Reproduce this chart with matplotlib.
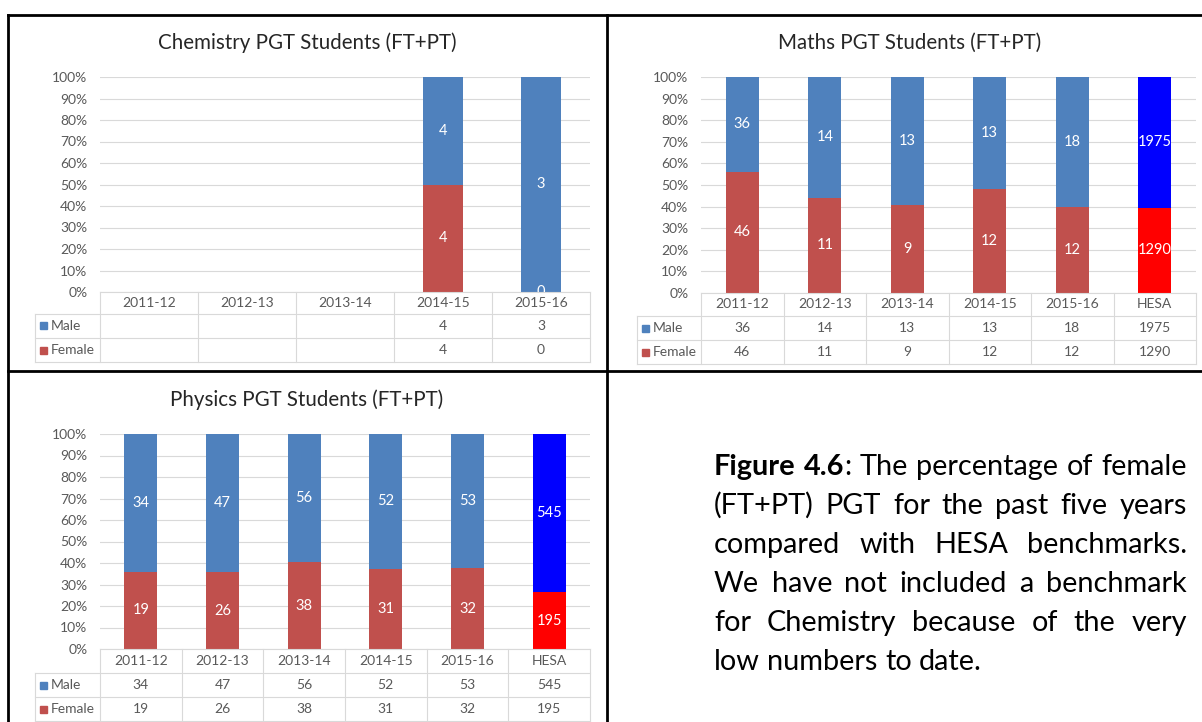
import matplotlib.pyplot as plt
from matplotlib.lines import Line2D
from matplotlib.patches import Rectangle

plt.rcParams['font.family'] = ['Lato', 'DejaVu Sans']

W, H = 1202, 722

years = ['2011-12', '2012-13', '2013-14', '2014-15', '2015-16']

chem_cats = years
chem_male = [None, None, None, 4, 3]
chem_female = [None, None, None, 4, 0]

maths_cats = years + ['HESA']
maths_male = [36, 14, 13, 13, 18, 1975]
maths_female = [46, 11, 9, 12, 12, 1290]

phys_cats = years + ['HESA']
phys_male = [34, 47, 56, 52, 53, 545]
phys_female = [19, 26, 38, 31, 32, 195]

MALE_C, FEMALE_C = '#4F81BD', '#C0504D'
HESA_MALE_C, HESA_FEMALE_C = '#0000FF', '#FF0000'
GRID_C = '#D9D9D9'
TXT_C = '#595959'

fig = plt.figure(figsize=(W / 100, H / 100), dpi=100)


def fx(x):
    return x / W


def fy(y):
    return 1 - y / H


def hline(y, x0, x1, color=GRID_C, lw=0.8):
    fig.add_artist(Line2D([fx(x0), fx(x1)], [fy(y), fy(y)], color=color, lw=lw,
                          transform=fig.transFigure))


def vline(x, y0, y1, color=GRID_C, lw=0.8):
    fig.add_artist(Line2D([fx(x), fx(x)], [fy(y0), fy(y1)], color=color, lw=lw,
                          transform=fig.transFigure))


def chart(title, title_xy, cats, male, female, box, rows, leg_left):
    x0, x1, ytop, ybot = box
    hdr_bot, male_bot, fem_bot = rows
    n = len(cats)
    ax = fig.add_axes([fx(x0), fy(ybot), (x1 - x0) / W, (ybot - ytop) / H])

    for i, (m, f) in enumerate(zip(male, female)):
        if m is None:
            continue
        tot = m + f
        fp, mp = f / tot * 100, m / tot * 100
        hesa = cats[i] == 'HESA'
        fc = HESA_FEMALE_C if hesa else FEMALE_C
        mc = HESA_MALE_C if hesa else MALE_C
        ax.bar(i, fp, width=0.4, color=fc, zorder=2)
        ax.bar(i, mp, bottom=fp, width=0.4, color=mc, zorder=2)
        ax.text(i, fp / 2, str(f), color='white', ha='center', va='center',
                fontsize=10.5, clip_on=True, zorder=3)
        ax.text(i, fp + mp / 2, str(m), color='white', ha='center', va='center',
                fontsize=10.5, clip_on=True, zorder=3)

    ax.set_xlim(-0.5, n - 0.5)
    ax.set_ylim(0, 100)
    ax.set_yticks(range(0, 101, 10))
    ax.set_yticklabels([f'{v}%' for v in range(0, 101, 10)], color=TXT_C, fontsize=10)
    ax.set_xticks([])
    ax.tick_params(axis='y', length=0, pad=9)
    ax.grid(axis='y', color=GRID_C, lw=0.8)
    ax.set_axisbelow(True)
    for s in ['top', 'left', 'right']:
        ax.spines[s].set_visible(False)
    ax.spines['bottom'].set_color(GRID_C)
    ax.spines['bottom'].set_linewidth(0.8)
    ax.patch.set_alpha(0)

    # data table under the plot
    cw = (x1 - x0) / n
    for k in range(n + 1):
        vline(x0 + k * cw, ybot, fem_bot)
    vline(leg_left, hdr_bot, fem_bot)
    for y in (hdr_bot, male_bot, fem_bot):
        hline(y, leg_left, x1)
    for i, c in enumerate(cats):
        cx = fx(x0 + (i + 0.5) * cw)
        fig.text(cx, fy((ybot + hdr_bot) / 2), c, ha='center', va='center',
                 color=TXT_C, fontsize=10)
        if male[i] is not None:
            fig.text(cx, fy((hdr_bot + male_bot) / 2), str(male[i]), ha='center',
                     va='center', color=TXT_C, fontsize=10)
            fig.text(cx, fy((male_bot + fem_bot) / 2), str(female[i]), ha='center',
                     va='center', color=TXT_C, fontsize=10)
    for label, col, (ya, yb) in [('Male', MALE_C, (hdr_bot, male_bot)),
                                 ('Female', FEMALE_C, (male_bot, fem_bot))]:
        yc = (ya + yb) / 2
        fig.add_artist(Rectangle((fx(leg_left + 5), fy(yc + 3.5)), 7 / W, 7 / H,
                                 color=col, transform=fig.transFigure))
        fig.text(fx(leg_left + 16), fy(yc), label, ha='left', va='center',
                 color=TXT_C, fontsize=10)

    fig.text(fx(title_xy[0]), fy(title_xy[1]), title, ha='center', va='center',
             fontsize=14.8, color='#262626')


chart('Chemistry PGT Students (FT+PT)', (307, 43), chem_cats, chem_male, chem_female,
      (100, 590, 77, 292), (314, 338, 362), 35)
chart('Maths PGT Students (FT+PT)', (910, 43), maths_cats, maths_male, maths_female,
      (701, 1196, 77, 293), (316, 340, 364), 637)
chart('Physics PGT Students (FT+PT)', (307, 400), phys_cats, phys_male, phys_female,
      (100, 590, 434, 649), (673, 697, 721), 35)

# black frames around the charts
BLK = 2.0
hline(15, 8, 1202, 'black', BLK)
hline(371, 8, 1202, 'black', BLK)
vline(8, 15, 722, 'black', BLK)
vline(607, 15, 722, 'black', BLK)

# justified caption
caption = [
    [[('Figure', 'bold')], [('4.6', 'bold'), (':', 'normal')], 'The', 'percentage', 'of', 'female'],
    ['(FT+PT)', 'PGT', 'for', 'the', 'past', 'five', 'years'],
    ['compared', 'with', 'HESA', 'benchmarks.'],
    ['We', 'have', 'not', 'included', 'a', 'benchmark'],
    ['for', 'Chemistry', 'because', 'of', 'the', 'very'],
    ['low', 'numbers', 'to', 'date.'],
]
cap_left, cap_right = 714, 1187
baseline0, pitch = 475, 39

renderer = fig.canvas.get_renderer()


def frag_width(s, weight, size):
    t = fig.text(0, 0, s, fontsize=size, weight=weight)
    w = t.get_window_extent(renderer).width
    t.remove()
    return w


def word_parts(w):
    return [(w, 'normal')] if isinstance(w, str) else w


def natural_width(line, size):
    sp = frag_width('a a', 'normal', size) - frag_width('aa', 'normal', size)
    words = [word_parts(w) for w in line]
    return sum(frag_width(s, wt, size) for p in words for s, wt in p) + sp * (len(words) - 1)


# size the caption font so the first line sets with ordinary word spacing
cap_size = 10 * (cap_right - cap_left - 4) / natural_width(caption[0], 10)
space_w = frag_width('a a', 'normal', cap_size) - frag_width('aa', 'normal', cap_size)

for li, line in enumerate(caption):
    words = [word_parts(w) for w in line]
    widths = [[frag_width(s, wt, cap_size) for s, wt in parts] for parts in words]
    total = sum(sum(ws) for ws in widths)
    if li < len(caption) - 1:
        gap = (cap_right - cap_left - total) / (len(words) - 1)
    else:
        gap = space_w
    x = cap_left
    yb = baseline0 + li * pitch
    for parts, ws in zip(words, widths):
        for (s, wt), w in zip(parts, ws):
            fig.text(fx(x), fy(yb), s, fontsize=cap_size, weight=wt, ha='left',
                     va='baseline', color='black')
            x += w
        x += gap

fig.savefig('out.png', dpi=100, facecolor='white')
